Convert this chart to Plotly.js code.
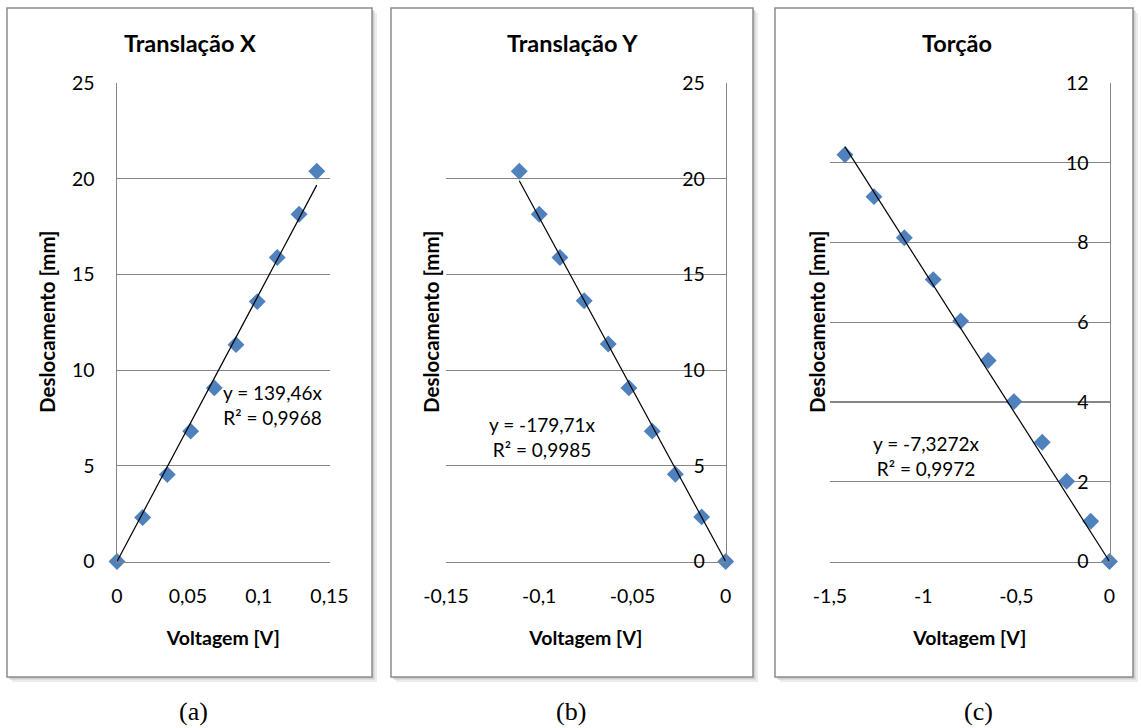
<!DOCTYPE html>
<html>
<head>
<meta charset="utf-8">
<script src="https://cdn.plot.ly/plotly-3.0.1.min.js"></script>
<style>html,body{margin:0;padding:0;background:#fff;}#chart{width:1141px;height:728px;}</style>
</head>
<body>
<div id="chart"></div>
<script>
// ---- data ----
const titles = ["Translação X", "Translação Y", "Torção"];
const captions = ["(a)", "(b)", "(c)"];
const xTitle = "Voltagem [V]";
const yTitle = "Deslocamento [mm]";

const xA = [0, 0.0181, 0.0355, 0.052, 0.0687, 0.084, 0.099, 0.1131, 0.1285, 0.141];
const yA = [0, 2.30, 4.54, 6.81, 9.07, 11.33, 13.58, 15.88, 18.14, 20.39];
const xB = [-0.1107, -0.1000, -0.0889, -0.0759, -0.0630, -0.0519, -0.0394, -0.0270, -0.0129, 0];
const yB = [20.39, 18.14, 15.88, 13.62, 11.36, 9.07, 6.81, 4.56, 2.33, 0];
const xC = [-1.420, -1.264, -1.101, -0.946, -0.799, -0.651, -0.513, -0.361, -0.230, -0.101, 0];
const yC = [10.2, 9.15, 8.12, 7.07, 6.03, 5.04, 4.01, 2.99, 2.01, 1.01, 0];

const slopes = [139.46, -179.71, -7.3272];
const eqTexts = ["y = 139,46x", "y = -179,71x", "y = -7,3272x"];
const r2Texts = ["R² = 0,9968", "R² = 0,9985", "R² = 0,9972"];

const xTickValsA = [0, 0.05, 0.1, 0.15];
const xTickTextA = ["0", "0,05", "0,1", "0,15"];
const xTickValsB = [-0.15, -0.1, -0.05, 0];
const xTickTextB = ["-0,15", "-0,1", "-0,05", "0"];
const xTickValsC = [-1.5, -1, -0.5, 0];
const xTickTextC = ["-1,5", "-1", "-0,5", "0"];
const yTickValsAB = [0, 5, 10, 15, 20, 25];
const yTickValsC = [0, 2, 4, 6, 8, 10, 12];

// ---- layout helpers ----
const W = 1141, H = 728;
const px = v => v / W;
const py = v => 1 - v / H;
const FONT = "Lato, 'Open Sans', sans-serif";
const GRID = "#868686";
const MARK = "#4F81BD";

const xs = [xA, xB, xC], ys = [yA, yB, yC];
const traces = [];
for (let i = 0; i < 3; i++) {
  const ax = i === 0 ? "" : String(i + 1);
  traces.push({
    type: "scatter", mode: "markers", x: xs[i], y: ys[i],
    xaxis: "x" + ax, yaxis: "y" + ax,
    marker: {symbol: "diamond", size: 13, color: MARK, line: {width: 0}},
    hoverinfo: "x+y", showlegend: false, cliponaxis: false
  });
  const xe = i === 0 ? Math.max(...xs[i]) : Math.min(...xs[i]);
  traces.push({
    type: "scatter", mode: "lines", x: [0, xe], y: [0, slopes[i] * xe],
    xaxis: "x" + ax, yaxis: "y" + ax,
    line: {color: "#000", width: 1.2}, hoverinfo: "skip", showlegend: false
  });
}

const yDom = [py(561.5), py(83)];
const baseX = (dom, vals, text) => ({
  domain: dom, tickvals: vals, ticktext: text, range: [vals[0], vals[vals.length - 1]],
  showgrid: false, zeroline: false, showline: true, linecolor: GRID, linewidth: 1.5,
  ticks: "", ticklabelstandoff: 17, tickfont: {family: FONT, size: 19.5, color: "#000"},
  title: {text: "<b>" + xTitle + "</b>", font: {family: FONT, size: 19.5, color: "#000"}, standoff: 25},
  fixedrange: true
});
const baseY = (vals) => ({
  domain: yDom, tickvals: vals, range: [vals[0], vals[vals.length - 1]],
  showgrid: true, gridcolor: GRID, gridwidth: 1.2, zeroline: false,
  showline: true, linecolor: GRID, linewidth: 1.5, ticks: "", side: "left",
  ticklabelstandoff: 17, tickfont: {family: FONT, size: 19.5, color: "#000"},
  fixedrange: true
});

const boxes = [[7, 8, 372, 677], [391, 8, 753, 677], [775, 8, 1133, 677]];
const shapes = [];
boxes.forEach(b => {
  shapes.push({type: "rect", xref: "paper", yref: "paper", layer: "below",
    x0: px(b[0] + 5), x1: px(b[2] + 5), y0: py(b[3] + 5), y1: py(b[1] + 5),
    fillcolor: "#ececec", line: {width: 0}});
  shapes.push({type: "rect", xref: "paper", yref: "paper", layer: "below",
    x0: px(b[0] + 2.5), x1: px(b[2] + 2.5), y0: py(b[3] + 2.5), y1: py(b[1] + 2.5),
    fillcolor: "#cfcfcf", line: {width: 0}});
  shapes.push({type: "rect", xref: "paper", yref: "paper", layer: "below",
    x0: px(b[0]), x1: px(b[2]), y0: py(b[3]), y1: py(b[1]),
    fillcolor: "#ffffff", line: {color: "#8c8c8c", width: 1.5}});
});

const titleX = [189.5, 572, 957];
const capX = [193, 571, 978];
const yTitleX = [47, 431, 817];
const eqPos = [[272, 405], [542, 437], [926, 456]];
const annotations = [];
for (let i = 0; i < 3; i++) {
  annotations.push({xref: "paper", yref: "paper", x: px(titleX[i]), y: py(43), text: "<b>" + titles[i] + "</b>",
    showarrow: false, xanchor: "center", yanchor: "middle", font: {family: FONT, size: 23.5, color: "#000"}});
  annotations.push({xref: "paper", yref: "paper", x: px(capX[i]), y: py(711), text: captions[i],
    showarrow: false, xanchor: "center", yanchor: "middle", font: {family: "'Liberation Serif', 'Times New Roman', serif", size: 26, color: "#000"}});
  annotations.push({xref: "paper", yref: "paper", x: px(yTitleX[i]), y: py(322), text: "<b>" + yTitle + "</b>",
    showarrow: false, textangle: -90, xanchor: "center", yanchor: "middle", font: {family: FONT, size: 20.5, color: "#000"}});
  annotations.push({xref: "paper", yref: "paper", x: px(eqPos[i][0]), y: py(eqPos[i][1]),
    text: eqTexts[i] + "<br>" + r2Texts[i], align: "center",
    showarrow: false, xanchor: "center", yanchor: "middle", font: {family: FONT, size: 19, color: "#000"}});
}

const layout = {
  width: W, height: H, margin: {l: 0, r: 0, t: 0, b: 0},
  paper_bgcolor: "#ffffff", plot_bgcolor: "rgba(0,0,0,0)",
  separators: ", ", showlegend: false, font: {family: FONT, color: "#000"},
  xaxis: Object.assign(baseX([px(117), px(329.5)], xTickValsA, xTickTextA), {anchor: "y"}),
  yaxis: Object.assign(baseY(yTickValsAB), {anchor: "x"}),
  xaxis2: Object.assign(baseX([px(446), px(725.7)], xTickValsB, xTickTextB), {anchor: "y2"}),
  yaxis2: Object.assign(baseY(yTickValsAB), {anchor: "free", position: px(725.7)}),
  xaxis3: Object.assign(baseX([px(830), px(1109.5)], xTickValsC, xTickTextC), {anchor: "y3"}),
  yaxis3: Object.assign(baseY(yTickValsC), {anchor: "free", position: px(1109.5)}),
  shapes: shapes, annotations: annotations
};

Plotly.newPlot("chart", traces, layout, {displayModeBar: false, staticPlot: true});
</script>
</body>
</html>
